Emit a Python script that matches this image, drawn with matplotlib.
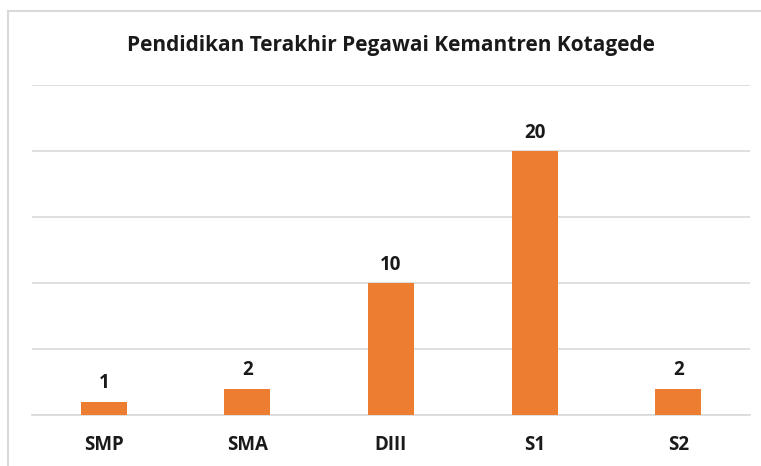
import matplotlib.pyplot as plt
from matplotlib.patches import Rectangle

categories = ['SMP', 'SMA', 'DIII', 'S1', 'S2']
values = [1, 2, 10, 20, 2]
title = 'Pendidikan Terakhir Pegawai Kemantren Kotagede'

plt.rcParams['font.family'] = ['Open Sans', 'DejaVu Sans']

W, H = 761, 466
fig = plt.figure(figsize=(W / 100, H / 100), dpi=100)
fig.patch.set_facecolor('white')

# outer chart border (cropped on right/bottom in the reference)
fig.add_artist(Rectangle((8 / W, -0.1), 1.2, 1 - 11 / H + 0.1, transform=fig.transFigure,
                         fill=False, edgecolor='#D9D9D9', linewidth=1.5))

ax = fig.add_axes([32 / W, (H - 415) / H, 718 / W, 330 / H])
x = range(len(categories))
bars = ax.bar(x, values, width=0.32, color='#ED7D31', zorder=3)

ax.set_xlim(-0.5, len(categories) - 0.5)
ax.set_ylim(0, 25)
ax.set_yticks([0, 5, 10, 15, 20, 25])
ax.yaxis.grid(True, color='#D9D9D9', linewidth=1.2, zorder=0)
ax.tick_params(axis='y', left=False, labelleft=False)
ax.tick_params(axis='x', bottom=False, pad=11)
ax.set_xticks(list(x))
ax.set_xticklabels(categories, fontsize=13.5, fontweight='bold', color='#1a1a1a')
for side in ['top', 'right', 'left']:
    ax.spines[side].set_visible(False)
ax.spines['bottom'].set_color('#D9D9D9')
ax.spines['bottom'].set_linewidth(1.2)

for b, v in zip(bars, values):
    ax.annotate(str(v), (b.get_x() + b.get_width() / 2, v), xytext=(0, 6),
                textcoords='offset points', ha='center', va='bottom',
                fontsize=13.5, fontweight='bold', color='#1a1a1a')

fig.text(391 / W, 1 - 45 / H, title, ha='center', va='center',
         fontsize=15, fontweight='bold', color='#1a1a1a')

fig.savefig('out.png', dpi=100)
